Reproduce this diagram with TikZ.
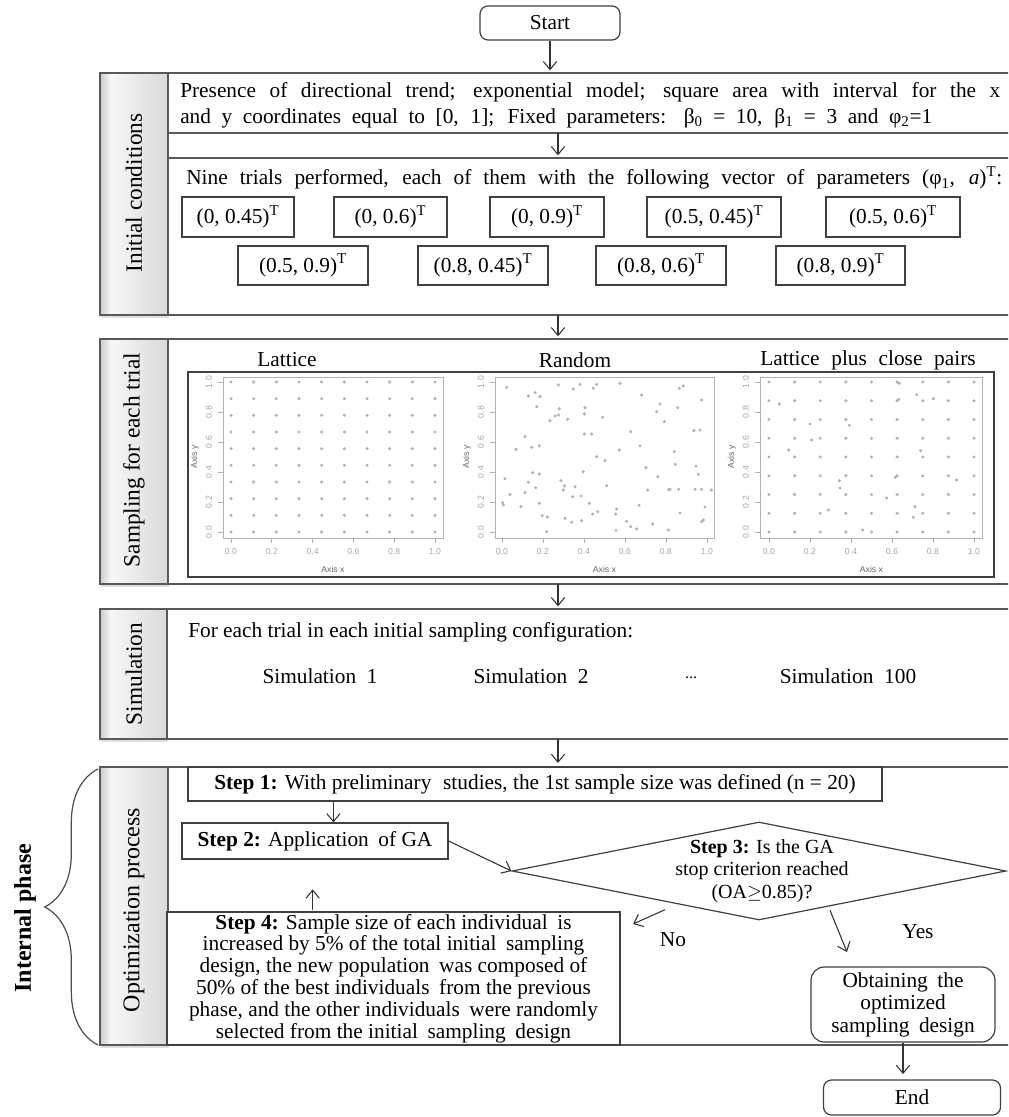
\documentclass[tikz,border=0pt]{standalone}
\usepackage{fontspec}
\setmainfont{Liberation Serif}
\newfontfamily\plotfont{Liberation Sans}
\usetikzlibrary{arrows.meta,shapes.geometric,decorations.pathreplacing,shadows,calc}
\pgfdeclarehorizontalshading{barshade}{100bp}{color(0bp)=(gray!40); color(25bp)=(gray!40); color(33bp)=(gray!6); color(75bp)=(gray!30); color(100bp)=(gray!30)}
\newcommand{\mainsize}{\fontsize{16}{18}\selectfont}
\newcommand{\plotaxes}[5]{%
  \draw[pframe] (#1,377) rectangle (#2,538);
  \foreach \v [count=\k from 0] in {0.0,0.2,0.4,0.6,0.8,1.0}{%
    \draw[ptick] ({#3+(#4-#3)*\k/5},538) -- ++(0,5);
    \node[ticklab] (#5x\k) at ({#3+(#4-#3)*\k/5},552) {\v};
    \draw[ptick] (#1,{532-30*\k}) -- ++(-5,0);
    \node[ticklab,rotate=90] (#5y\k) at (#1-14,{532-30*\k}) {\v};
  }%
  \node[axlab] (#5ax) at ({(#3+#4)/2},569) {Axis x};
  \node[axlab,rotate=90] (#5ay) at (#1-28,457) {Axis y};
}
\begin{document}
\begin{tikzpicture}[x=0.75pt,y=-0.75pt,
  arr/.style={draw=black!80, line width=0.8pt, -{Straight Barb[length=6pt,width=10pt]}},
  frame/.style={draw=black!65, line width=1.1pt},
  bar/.style={draw=black!65, line width=1.1pt, shade, shading=barshade,
     drop shadow={shadow xshift=0.6pt, shadow yshift=-2pt, opacity=0.25}, inner sep=0pt},
  barlab/.style={rotate=90, font=\fontsize{17.5}{18}\selectfont, inner sep=0pt},
  txt/.style={font=\mainsize, inner sep=0pt},
  pbox/.style={draw=black!75, line width=0.9pt, font=\mainsize, inner sep=0pt, minimum height=30pt},
  sbox/.style={draw=black!75, line width=0.9pt, fill=white, font=\mainsize, inner sep=0pt, align=center},
  rbox/.style={draw=black!75, line width=0.9pt, fill=white, font=\mainsize, inner sep=0pt, align=center},
  pframe/.style={draw=gray!60, line width=0.6pt},
  ptick/.style={draw=gray!60, line width=0.5pt},
  ticklab/.style={font=\plotfont\fontsize{6.5}{7}\selectfont, text=gray!70, inner sep=0pt},
  axlab/.style={font=\plotfont\fontsize{6.5}{7}\selectfont, text=black!60, inner sep=0pt},
  ptc/.style={fill=gray!60}
]
\useasboundingbox (0,0) rectangle (1008,1117);
\clip (0,0) rectangle (1008,1117);
\fill[white] (0,0) rectangle (1008,1117);

% ---------- Start ----------
\node[rbox, rounded corners=6pt, minimum width=105pt, minimum height=25.5pt] (start) at (550,23) {Start};

% ---------- Section frames ----------
\draw[frame] (100,73) rectangle (1030,315);
\draw[frame] (168,133) -- (1030,133);
\draw[frame] (168,158) -- (1030,158);
\draw[frame] (100,339) rectangle (1030,584);
\draw[frame] (100,609) rectangle (1030,739);
\draw[frame] (100,767) rectangle (1030,1045);

\coordinate (ictop) at (558,73);
\coordinate (icmid1) at (558,133);
\coordinate (icmid2) at (558,158);
\coordinate (icbot) at (558,315);
\coordinate (samtop) at (558,339);
\coordinate (sambot) at (558,584);
\coordinate (simtop) at (558,609);
\coordinate (simbot) at (558,739);
\coordinate (opttop) at (558,767);

% ---------- bars ----------
\node[bar, minimum width=51pt, minimum height=181.5pt] (icbar) at (134,194) {};
\node[barlab] (iclab) at (134,193) {Initial conditions};
\node[bar, minimum width=51pt, minimum height=183.75pt] (sambar) at (134,461.5) {};
\node[barlab] (samlab) at (134,460) {Sampling for each trial};
\node[bar, minimum width=50.25pt, minimum height=97.5pt] (simbar) at (133.5,674) {};
\node[barlab] (simlab) at (134,674) {Simulation};
\node[bar, minimum width=51pt, minimum height=208.5pt] (optbar) at (134,906) {};
\node[barlab, font=\fontsize{18}{18}\selectfont] (optlab) at (134,910) {Optimization process};

% ---------- arrows between sections ----------
\draw[arr, shorten >=2pt] (start.south) -- (start.south |- ictop);
\draw[arr, shorten >=2pt] (icmid1) -- (icmid2);
\draw[arr, shorten >=2pt] (icbot) -- (samtop);
\draw[arr, shorten >=2pt] (sambot) -- (simtop);
\draw[arr, shorten >=3pt] (simbot) -- (opttop);

% ---------- Initial conditions text ----------
\node[txt, anchor=west] (ic1) at (180,92) {\makebox[615pt][s]{Presence of directional trend; exponential model; square area with interval for the x}};
\node[txt, anchor=west] (ic2) at (180,118) {\makebox[564pt][s]{and y coordinates equal to [0, 1]; Fixed parameters: β\textsubscript{0} = 10, β\textsubscript{1} = 3 and φ\textsubscript{2}=1}};
\node[txt, anchor=west] (ic3) at (186,178) {\makebox[612pt][s]{Nine trials performed, each of them with the following vector of parameters (φ\textsubscript{1}, \textit{a})\textsuperscript{T}:}};

\node[pbox, minimum width=84pt] (p1) at (238,217) {(0, 0.45)\textsuperscript{T}};
\node[pbox, minimum width=84.75pt] (p2) at (390.5,217) {(0, 0.6)\textsuperscript{T}};
\node[pbox, minimum width=85.5pt] (p3) at (547,217) {(0, 0.9)\textsuperscript{T}};
\node[pbox, minimum width=100.5pt] (p4) at (714,217) {(0.5, 0.45)\textsuperscript{T}};
\node[pbox, minimum width=100.5pt] (p5) at (893,217) {(0.5, 0.6)\textsuperscript{T}};
\node[pbox, minimum width=97.5pt, minimum height=29.25pt] (p6) at (303,265.5) {(0.5, 0.9)\textsuperscript{T}};
\node[pbox, minimum width=97.5pt, minimum height=29.25pt] (p7) at (483,265.5) {(0.8, 0.45)\textsuperscript{T}};
\node[pbox, minimum width=97.5pt, minimum height=29.25pt] (p8) at (661,265.5) {(0.8, 0.6)\textsuperscript{T}};
\node[pbox, minimum width=96.75pt, minimum height=29.25pt] (p9) at (840.5,265.5) {(0.8, 0.9)\textsuperscript{T}};

% ---------- Sampling ----------
\node[txt] (tlat) at (287,360) {Lattice};
\node[txt] (tran) at (575,360) {Random};
\node[txt] (tlcp) at (868,360) {Lattice\hspace{0.3em} plus\hspace{0.3em} close\hspace{0.3em} pairs};
\draw[draw=black!75, line width=0.9pt] (188,372) rectangle (994,577);

\plotaxes{223}{443}{231}{435}{L}
\plotaxes{495}{714}{502}{707}{R}
\plotaxes{760}{982}{769}{974}{C}

\foreach \i in {0,...,9}{\foreach \j in {0,...,9}{\fill[ptc] ({231+\i*204/9},{382+\j*150/9}) circle[radius=1.3pt];}}
\foreach \i in {0,...,8}{\foreach \j in {0,...,8}{\fill[ptc] ({769+\i*205/8},{382+\j*150/8}) circle[radius=1.3pt];}}
\foreach \a/\b in {838/312,930/372,935/420,866/450,1048/376,1198/250,1196/298,1250/284,1300/296,1262/452,1018/542,1020/564,1186/532,1160/594,985/630,1245/620,1240/652,1088/690,1370/540}
  {\fill[ptc] ({500+\a/3},{300+\b/3}) circle[radius=1.3pt];}
\foreach \a/\b in {200/172,265/198,285/188,300/200,290/230,330/272,345/258,355/255,358/236,383/268,355/165,400/177,420/163,460/175,470/163,540/160,435/233,433/252,488/262,433/312,455/312,605/195,660/222,650/245,673/275,713/233,718/175,730/168,785/210,780/300,255/320,228/358,275/352,298/347,572/305,470/380,495/392,538/360,600/348,618/413,703/365,706/403,653/440,762/302,768/408,785/478,795/531,790/570,195/446,210/493,188/518,190/525,243/530,255/488,265/457,278/428,298/432,287/473,298/520,307/557,322/561,320/605,363/452,370/480,375/565,395/577,398/500,373/468,405/470,423/498,425/572,430/425,448/520,458/552,473/545,500/467,527/552,530/537,528/601,560/574,572/590,597/526,590/597,623/480,638/582,686/479,685/600,716/478,720/549,775/433,765/478,785/575,690/478,814/480}
  {\fill[ptc] ({440+\a/3},{330+\b/3}) circle[radius=1.3pt];}

% ---------- Simulation ----------
\node[txt, anchor=west] (simintro) at (188,632) {For each trial in each initial sampling configuration:};
\node[txt] (sim1) at (320,676) {Simulation\hspace{0.5em}1};
\node[txt] (sim2) at (531,676) {Simulation\hspace{0.5em}2};
\node[txt, font=\fontsize{12}{12}\selectfont] (simd) at (691,678) {...};
\node[txt] (sim3) at (848,676) {Simulation\hspace{0.5em}100};

% ---------- Optimization ----------
\node[sbox, minimum width=520.5pt, minimum height=25.5pt] (step1) at (535,784) {\textbf{Step 1:} With preliminary\hspace{0.3em} studies, the 1st sample size was defined (n = 20)};
\node[sbox, minimum width=199.5pt, minimum height=27pt] (step2) at (315,841) {\textbf{Step 2:} Application\hspace{0.2em} of GA};
\node[sbox, minimum width=339.75pt, minimum height=99.75pt, font=\fontsize{16}{16.4}\selectfont] (step4) at (393.5,978.5)
  {\textbf{Step 4:} Sample size of each individual\hspace{0.2em} is\\
   increased by 5\% of the total initial\hspace{0.2em} sampling\\
   design, the new population\hspace{0.2em} was composed of\\
   50\% of the best individuals\hspace{0.2em} from the previous\\
   phase, and the other individuals\hspace{0.2em} were randomly\\
   selected from the initial\hspace{0.2em} sampling\hspace{0.2em} design};
\node[draw=black!75, line width=0.9pt, shape=diamond, shape aspect=5.04, inner sep=0pt,
      minimum width=370.5pt, minimum height=73.5pt] (dia) at (759,871) {};
\node[align=center, inner sep=0pt, font=\fontsize{15}{17}\selectfont] (diatext) at (762,871)
  {\textbf{Step 3:} Is the GA\\stop criterion reached\\(OA$\geq$0.85)?};
\node[rbox, rounded corners=10pt, minimum width=138pt, minimum height=56.25pt, font=\fontsize{16}{16.9}\selectfont] (obtain) at (903,1004.5)
  {Obtaining\hspace{0.2em} the\\optimized\\sampling\hspace{0.2em} design};
\node[rbox, rounded corners=6pt, minimum width=132.75pt, minimum height=26.25pt] (end) at (912,1097.5) {End};

\path ($(step1.south west)!0.21!(step1.south east)$) coordinate (s12);
\draw[arr] (s12) -- (s12 |- step2.north);
\draw[arr] (step2.east) -- (dia.west);
\draw[arr] ($(step4.north west)!0.322!(step4.north east)+(0,-1)$) -- ++(0,-21);
\coordinate (nos) at ($(dia.west)!0.62!(dia.south)+(0,8)$);
\coordinate (noe) at (633,924);
\draw[arr] (nos) -- (noe);
\coordinate (yess) at ($(dia.south)!0.287!(dia.east)+(0,4)$);
\coordinate (yese) at (847,952);
\draw[arr] (yess) -- (yese);
\draw[arr, shorten >=4pt] (obtain.south) -- (obtain.south |- end.north);
\node[txt] (nolab) at (673,940) {No};
\node[txt] (yeslab) at (918,932) {Yes};

% ---------- brace ----------
\draw[decorate, decoration={brace, amplitude=40pt}, line width=0.9pt, draw=black!70] (98,1045) -- (98,769);
\node[rotate=90, font=\bfseries\fontsize{18}{18}\selectfont, inner sep=0pt] (intph) at (25,918) {Internal phase};
\end{tikzpicture}
\end{document}
